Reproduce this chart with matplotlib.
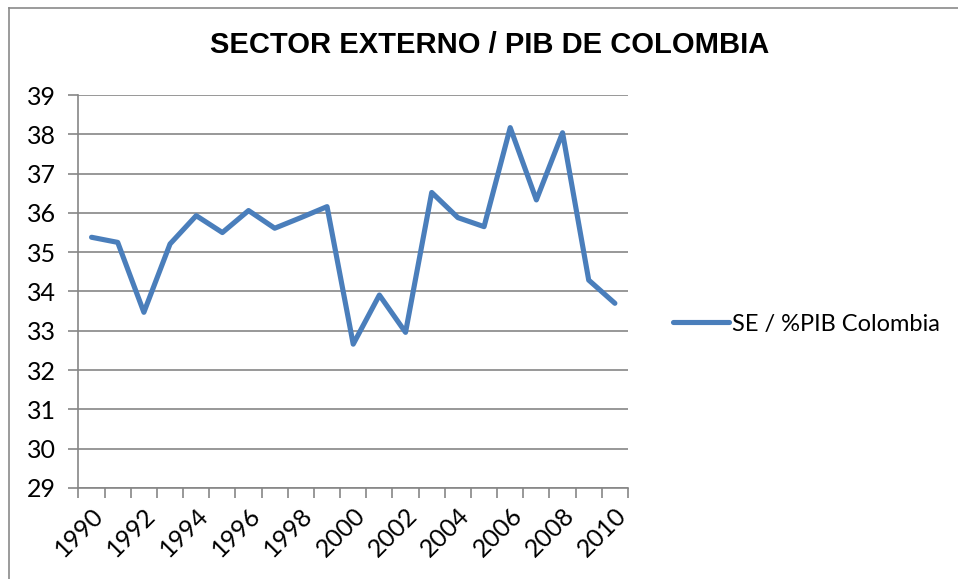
import matplotlib.pyplot as plt
from matplotlib.lines import Line2D

years = list(range(1990, 2011))
se_pib = [35.38, 35.25, 33.47, 35.21, 35.93, 35.50, 36.06, 35.61, 35.88, 36.16,
          32.66, 33.91, 32.96, 36.52, 35.88, 35.65, 38.17, 36.33, 38.04, 34.29, 33.70]
y_ticks = list(range(29, 40))

blue = '#4A7EBB'
grid_gray = '#868686'

fig = plt.figure(figsize=(9.58, 5.79), dpi=100)
ax = fig.add_axes([0.0819, 0.1572, 0.5736, 0.6787])

x = list(range(len(years)))
line, = ax.plot(x, se_pib, color=blue, lw=3.7, solid_joinstyle='round',
                solid_capstyle='round', label='SE / %PIB Colombia')

ax.set_xlim(-0.5, len(years) - 0.5)
ax.set_ylim(29, 39)
ax.set_yticks(y_ticks)
ax.yaxis.grid(True, color=grid_gray, lw=1.2)
ax.set_axisbelow(True)

# category labels every other year, tick marks between categories
ax.set_xticks(x[::2])
ax.set_xticklabels([str(y) for y in years[::2]], rotation=45, ha='right',
                   rotation_mode='anchor', fontsize=18, family='Lato')
ax.tick_params(axis='x', which='major', length=0, pad=11)
ax.set_xticks([i - 0.5 for i in range(len(years) + 1)], minor=True)
ax.tick_params(axis='x', which='minor', length=7, width=1.2, color=grid_gray)
ax.tick_params(axis='y', length=7, width=1.2, color=grid_gray, labelsize=18, pad=9)
for lab in ax.get_yticklabels():
    lab.set_family('Lato')

for side in ['top', 'right']:
    ax.spines[side].set_visible(False)
for side in ['left', 'bottom']:
    ax.spines[side].set_color(grid_gray)
    ax.spines[side].set_linewidth(1.2)

fig.text(0.511, 0.922, 'SECTOR EXTERNO / PIB DE COLOMBIA', ha='center', va='center',
         fontsize=21, fontweight='bold', family='Liberation Sans')

fig.legend(handles=[line], loc='center left', bbox_to_anchor=(0.702, 0.44),
           frameon=False, prop={'family': 'Lato', 'size': 17},
           handlelength=2.4, handletextpad=0.1, borderaxespad=0, borderpad=0)

# chart border (top and left visible)
fig.add_artist(Line2D([0.0094, 1.0], [0.986, 0.986], color='#8a8a8a', lw=1.2))
fig.add_artist(Line2D([0.0094, 0.0094], [0.0, 0.986], color='#8a8a8a', lw=1.2))

fig.savefig('out.png', dpi=100)
